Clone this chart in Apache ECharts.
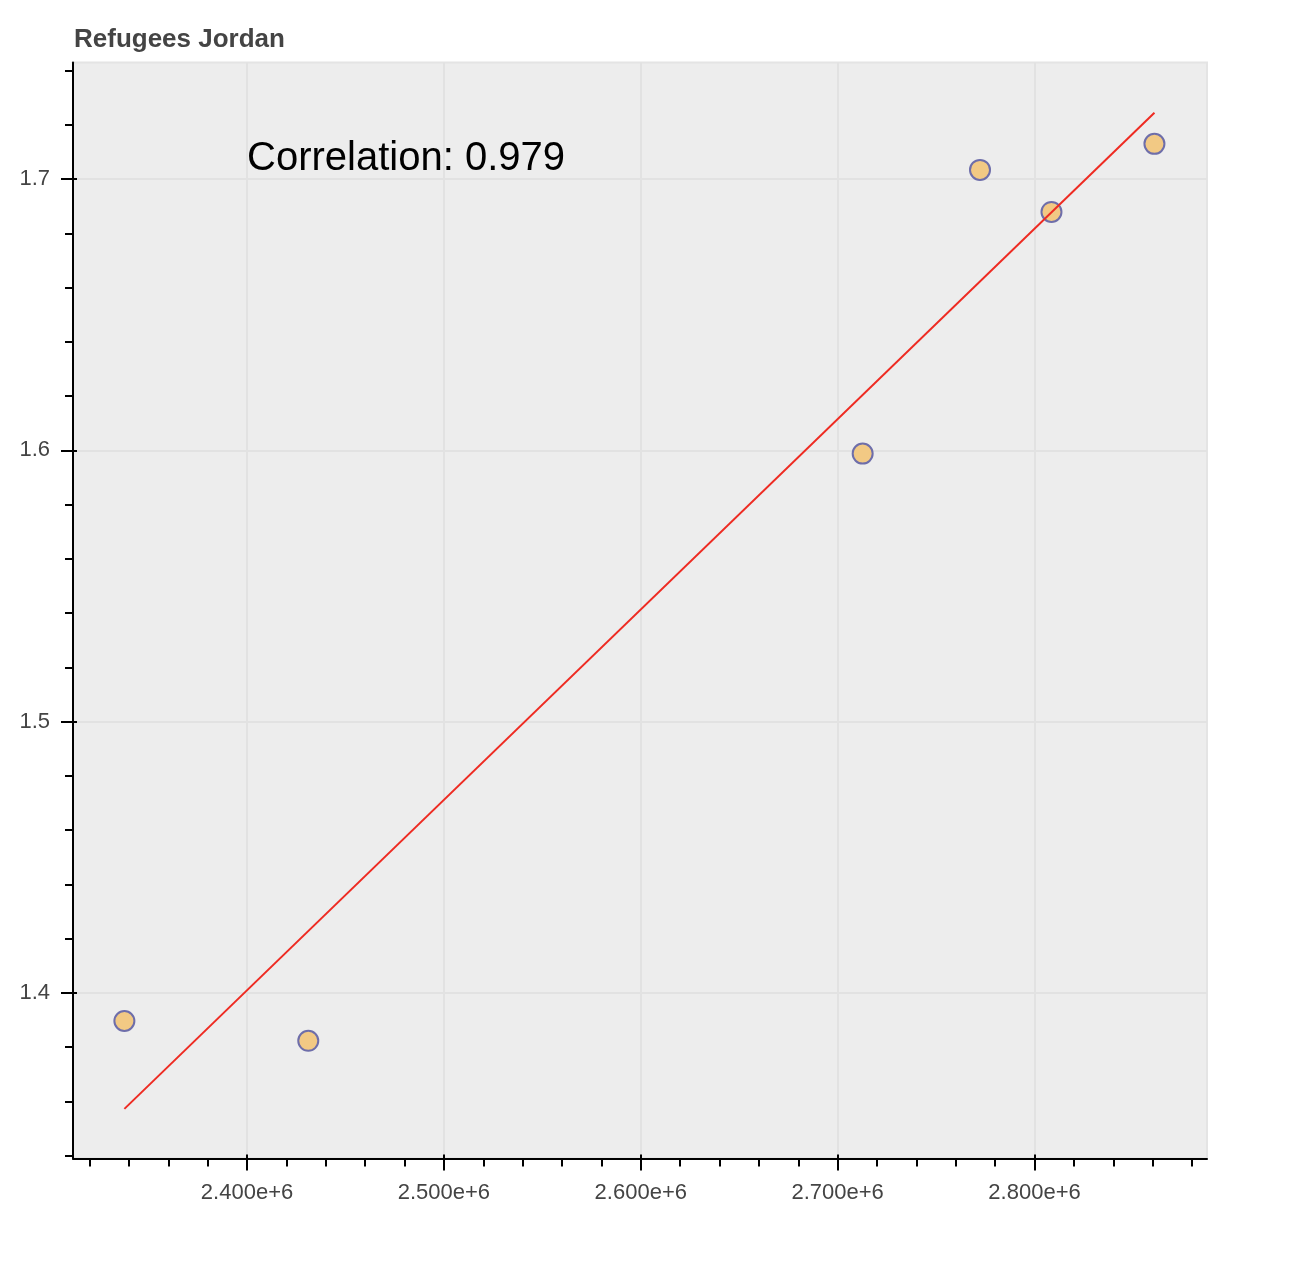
<!DOCTYPE html>
<html>
<head>
<meta charset="utf-8">
<script src="https://cdn.jsdelivr.net/npm/echarts@6/dist/echarts.min.js"></script>
<style>
  html, body { margin: 0; padding: 0; background: #fff; }
  #main { width: 1302px; height: 1288px; }
</style>
</head>
<body>
<div id="main"></div>
<script>
// refugees (x) vs value (y)
var refugees = [2337700, 2431100, 2712700, 2772300, 2808600, 2860900];
var values = [1.3896, 1.3823, 1.5988, 1.7034, 1.6879, 1.7130];

// fitted line ends
var fitX = [2337700, 2860900];
var fitY = [1.3572, 1.7245];

var correlationText = "Correlation: 0.979";
var labelAt = [2400000, 1.7];

// axis ranges and ticks
var xRange = [2311600, 2887600];
var yRange = [1.3389, 1.7430];
var xMajor = [2400000, 2500000, 2600000, 2700000, 2800000];
var xMinor = [2320000, 2340000, 2360000, 2380000, 2420000, 2440000, 2460000, 2480000,
  2520000, 2540000, 2560000, 2580000, 2620000, 2640000, 2660000, 2680000,
  2720000, 2740000, 2760000, 2780000, 2820000, 2840000, 2860000, 2880000];
var yMajor = [1.4, 1.5, 1.6, 1.7];
var yMinor = [1.34, 1.36, 1.38, 1.42, 1.44, 1.46, 1.48, 1.52, 1.54, 1.56, 1.58,
  1.62, 1.64, 1.66, 1.68, 1.72, 1.74];

(function() {
	var myChart = echarts.init(document.getElementById("main"));
	var font = "'Liberation Sans', Arial, Helvetica, sans-serif";

	function pairs(a, b) {
		return a.map(function(v, i) { return [v, b[i]]; });
	}

	function xAxisOf(kind) {
		var ax = {
			type: "value",
			min: xRange[0],
			max: xRange[1],
			position: "bottom",
			axisLine: { show: kind === "major", onZero: false, lineStyle: { color: "#000", width: 2 } },
			axisTick: {
				show: true,
				inside: kind === "in",
				length: kind === "major" ? 12 : (kind === "minor" ? 8 : 4),
				customValues: kind === "minor" ? xMinor : xMajor,
				lineStyle: { color: "#000", width: 2 }
			},
			axisLabel: { show: false },
			splitLine: { show: false }
		};
		if (kind === "major") {
			ax.axisLabel = {
				show: true,
				customValues: xMajor,
				margin: 23,
				color: "#444",
				fontSize: 22,
				fontFamily: font,
				formatter: function(v) { return (v / 1e6).toFixed(3) + "e+6"; }
			};
			ax.splitLine = { show: true, lineStyle: { color: "#e2e2e2", width: 2 } };
		}
		return ax;
	}

	function yAxisOf(kind) {
		var ax = {
			type: "value",
			min: yRange[0],
			max: yRange[1],
			position: "left",
			axisLine: { show: kind === "major", onZero: false, lineStyle: { color: "#000", width: 2 } },
			axisTick: {
				show: true,
				inside: kind === "in",
				length: kind === "major" ? 12 : (kind === "minor" ? 8 : 4),
				customValues: kind === "minor" ? yMinor : yMajor,
				lineStyle: { color: "#000", width: 2 }
			},
			axisLabel: { show: false },
			splitLine: { show: false }
		};
		if (kind === "major") {
			ax.axisLabel = {
				show: true,
				customValues: yMajor,
				margin: 23,
				color: "#444",
				fontSize: 22,
				fontFamily: font,
				formatter: function(v) { return v.toFixed(1); }
			};
			ax.splitLine = { show: true, lineStyle: { color: "#e2e2e2", width: 2 } };
		}
		return ax;
	}

	var option = {
		animation: false,
		backgroundColor: "#fff",
		title: {
			text: "Refugees Jordan",
			left: 69,
			top: 22,
			textStyle: { color: "#444", fontSize: 26, fontWeight: "bold", fontFamily: font }
		},
		grid: {
			left: 73,
			right: 95,
			top: 62.5,
			bottom: 129.5,
			show: true,
			backgroundColor: "#ededed",
			borderColor: "#e4e4e4",
			borderWidth: 2
		},
		xAxis: [xAxisOf("major"), xAxisOf("minor"), xAxisOf("in")],
		yAxis: [yAxisOf("major"), yAxisOf("minor"), yAxisOf("in")],
		series: [
			{
				name: "points",
				type: "scatter",
				data: pairs(refugees, values),
				symbolSize: 20,
				itemStyle: { color: "#f2c984", borderColor: "#6e6eaa", borderWidth: 2, opacity: 1 },
				z: 2
			},
			{
				name: "fit",
				type: "line",
				data: pairs(fitX, fitY),
				showSymbol: false,
				lineStyle: { color: "#ee2b22", width: 2 },
				z: 3
			}
		]
	};

	myChart.setOption(option);

	// annotation placed in data coordinates
	var at = myChart.convertToPixel({ xAxisIndex: 0, yAxisIndex: 0 }, labelAt);
	myChart.setOption({
		graphic: [{
			type: "text",
			x: at[0],
			y: at[1],
			z: 10,
			style: {
				text: correlationText,
				fill: "#000",
				font: "40px " + font,
				textAlign: "left",
				textVerticalAlign: "bottom"
			}
		}]
	});

	window.addEventListener("resize", function() {
		myChart.resize();
	});
})();
</script>
</body>
</html>
